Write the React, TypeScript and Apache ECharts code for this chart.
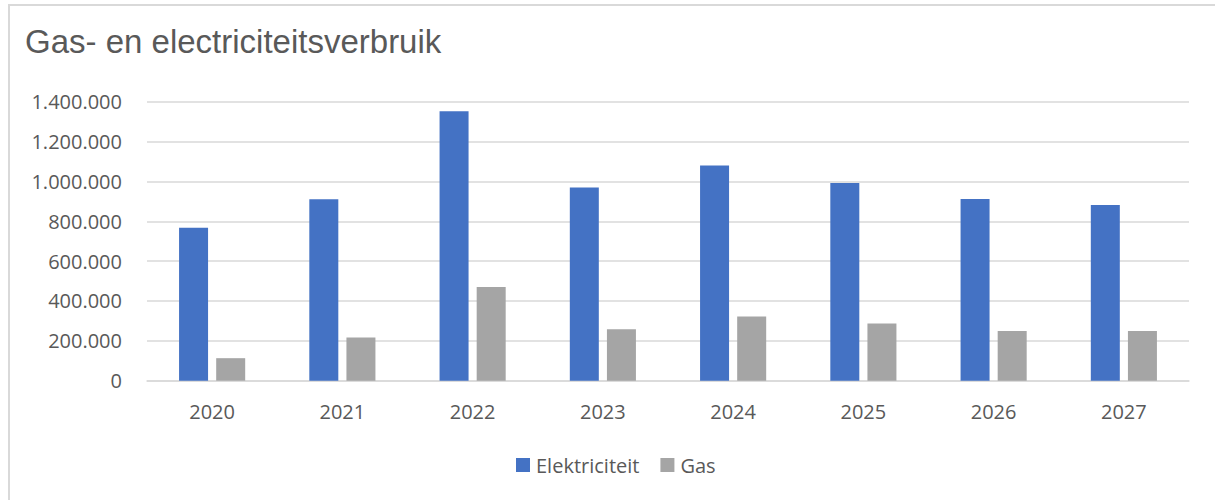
import React, { useEffect, useRef } from "react";
import * as echarts from "echarts";

const years = ["2020", "2021", "2022", "2023", "2024", "2025", "2026", "2027"];
const elektriciteit = [768000, 910000, 1352000, 970000, 1080000, 992000, 912000, 882000];
const gas = [113000, 217000, 470000, 258000, 322000, 287000, 250000, 250000];
const yTicks = { min: 0, max: 1400000, interval: 200000 };

const fmt = (v: number) => String(Math.round(v)).replace(/\B(?=(\d{3})+(?!\d))/g, ".");

export default function App() {
  const ref = useRef<HTMLDivElement>(null);
  useEffect(() => {
    if (!ref.current) return;
    const chart = echarts.init(ref.current, null, { renderer: "svg" });
    const labelFont = "'Open Sans', 'Noto Sans', sans-serif";
    chart.setOption({
      animation: false,
      backgroundColor: "#ffffff",
      title: {
        text: "Gas- en electriciteitsverbruik",
        left: 20,
        top: 20,
        textStyle: {
          fontFamily: "'Liberation Sans', Arial, sans-serif",
          fontSize: 33,
          fontWeight: "normal",
          color: "#595959",
        },
      },
      graphic: [
        { type: "line", shape: { x1: 8, y1: 5, x2: 1215, y2: 5 }, style: { stroke: "#d9d9d9", lineWidth: 2 } },
        { type: "line", shape: { x1: 9, y1: 5, x2: 9, y2: 500 }, style: { stroke: "#d9d9d9", lineWidth: 2 } },
      ],
      legend: {
        left: 511,
        top: 450,
        itemWidth: 14,
        itemHeight: 14,
        itemGap: 21,
        icon: "rect",
        textStyle: { fontFamily: labelFont, fontSize: 20, color: "#595959", padding: [0, 0, 0, 1] },
        data: ["Elektriciteit", "Gas"],
      },
      grid: { left: 147, right: 26, top: 101.7, bottom: 119.3, containLabel: false },
      xAxis: {
        type: "category",
        data: years,
        axisLine: { show: true, lineStyle: { color: "#d9d9d9", width: 1.5 } },
        axisTick: { show: false },
        axisLabel: { fontFamily: labelFont, fontSize: 20, color: "#595959", margin: 21, lineHeight: 20 },
      },
      yAxis: {
        type: "value",
        min: yTicks.min,
        max: yTicks.max,
        interval: yTicks.interval,
        axisLine: { show: false },
        axisTick: { show: false },
        splitLine: { lineStyle: { color: "#d9d9d9", width: 1.5 } },
        axisLabel: { fontFamily: labelFont, fontSize: 20, color: "#595959", margin: 25, formatter: (v: number) => fmt(v) },
      },
      series: [
        {
          name: "Elektriciteit",
          type: "bar",
          data: elektriciteit,
          barWidth: 29,
          barGap: "28%",
          itemStyle: { color: "#4472C4" },
        },
        {
          name: "Gas",
          type: "bar",
          data: gas,
          barWidth: 29,
          itemStyle: { color: "#A5A5A5" },
        },
      ],
    });
    return () => chart.dispose();
  }, []);
  return (
    <div
      ref={ref}
      style={{ position: "fixed", left: 0, top: 0, width: 1215, height: 500 }}
    />
  );
}
